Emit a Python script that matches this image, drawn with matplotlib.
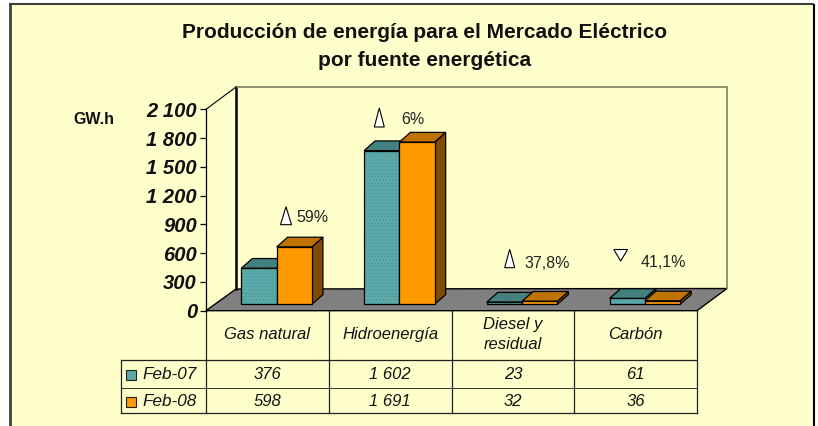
import matplotlib
matplotlib.use('Agg')
import matplotlib.pyplot as plt
from matplotlib.patches import Polygon, Rectangle

plt.rcParams['font.family'] = ['Liberation Sans', 'DejaVu Sans']
plt.rcParams['hatch.linewidth'] = 0.5

categories = ['Gas natural', 'Hidroenergía', 'Diesel y\nresidual', 'Carbón']
feb07 = [376, 1602, 23, 61]
feb08 = [598, 1691, 32, 36]
feb07_labels = ['376', '1 602', '23', '61']
feb08_labels = ['598', '1 691', '32', '36']
series_names = ['Feb-07', 'Feb-08']
yticks = [0, 300, 600, 900, 1200, 1500, 1800, 2100]
ytick_labels = ['0', '300', '600', '900', '1 200', '1 500', '1 800', '2 100']
changes = ['59%', '6%', '37,8%', '41,1%']

W, H = 818, 426
BG = '#FFFFCC'
TEAL, TEAL_TOP = '#5BA9A9', '#438080'
ORANGE, ORANGE_TOP, ORANGE_SIDE = '#FF9900', '#BF7300', '#7F4C00'

fig = plt.figure(figsize=(W / 100, H / 100), dpi=100, facecolor='white')

# everything that is not data sits on a pixel axes
bg = fig.add_axes([0, 0, 1, 1], zorder=0)
bg.set_xlim(0, W)
bg.set_ylim(H, 0)
bg.axis('off')

bg.add_patch(Rectangle((10, 4), 803, H, fc=BG, ec='none'))
bg.plot([10, 10], [4, H], color='#404040', lw=2, solid_capstyle='butt')
bg.plot([9, 814], [4, 4], color='#404040', lw=1.5, solid_capstyle='butt')
bg.plot([813.5, 813.5], [4, H], color='black', lw=1.5, solid_capstyle='butt')

bg.text(425, 33, 'Producción de energía para el Mercado Eléctrico', ha='center', va='center',
        fontsize=15, fontweight='bold', color='#111111')
bg.text(425, 60, 'por fuente energética', ha='center', va='center',
        fontsize=15, fontweight='bold', color='#111111')
bg.text(94, 119, 'GW.h', ha='center', va='center', fontsize=11.5, fontweight='bold', color='#111111')

# walls and floor
x0, x1, y_top, y_bot = 206, 697, 109.3, 310.7
bg.add_patch(Polygon([(x0, y_bot), (236, 289), (727, 288.5), (x1, y_bot)], fc='#808080', ec='black', lw=1))
bg.plot([236, 236], [87, 289], color='black', lw=1.8)
bg.plot([236, 727, 727], [87, 87, 288], color='#7F7F60', lw=1.2)
bg.plot([x0, 236], [y_top, 87], color='black', lw=0.8)

# data table
col_x = [x0 + i * (x1 - x0) / 4 for i in range(5)]
rows_y = [y_bot, 360.3, 388.3, 413.3]
for x in col_x:
    bg.plot([x, x], [rows_y[0], rows_y[3]], color='#202020', lw=0.9)
bg.plot([120.7, x1], [rows_y[1]] * 2, color='#202020', lw=0.9)
bg.plot([120.7, x1], [rows_y[2]] * 2, color='#303030', lw=0.7)
bg.plot([120.7, x1], [rows_y[3]] * 2, color='#202020', lw=0.9)
bg.plot([120.7, 120.7], [rows_y[1], rows_y[3]], color='#202020', lw=0.9)

for i, name in enumerate(categories):
    xc = (col_x[i] + col_x[i + 1]) / 2
    bg.text(xc, 334.5, name, ha='center', va='center', fontsize=12, style='italic', color='#111111', linespacing=1.35)
    bg.text(xc, 374.5, feb07_labels[i], ha='center', va='center', fontsize=12, style='italic', color='#111111')
    bg.text(xc, 401, feb08_labels[i], ha='center', va='center', fontsize=12, style='italic', color='#111111')

for name, color, yc in zip(series_names, [TEAL, ORANGE], [374.5, 401]):
    bg.add_patch(Rectangle((126, yc - 4.5), 10, 10, fc=color, ec='#202020', lw=0.8))
    bg.text(142.5, yc, name, ha='left', va='center', fontsize=12.3, style='italic', color='#111111')

# change markers
up = [(286, 206.7, 224.7, 11), (379.3, 108, 127, 10), (509.7, 249.3, 267.7, 10)]
for xc, t, b, w in up:
    bg.add_patch(Polygon([(xc, t), (xc - w / 2, b), (xc + w / 2, b)], fc='white', ec='black', lw=0.8))
bg.add_patch(Polygon([(613.8, 249.5), (627.6, 249.5), (620.7, 261)], fc='white', ec='black', lw=0.8))
for s, x, y in zip(changes, [296.5, 401.5, 524, 641], [217, 119, 263.5, 262.5]):
    bg.text(x, y, s, ha='left', va='center', fontsize=11.5, color='#222222')

# bars on real axes, value scale over front plane
ax = fig.add_axes([x0 / W, 1 - y_bot / H, (x1 - x0) / W, (y_bot - y_top) / H], zorder=1)
ax.patch.set_visible(False)
ax.set_xlim(0, 4)
ax.set_ylim(0, 2100)
for s in ['top', 'right', 'bottom']:
    ax.spines[s].set_visible(False)
ax.spines['left'].set_linewidth(0.9)
ax.set_xticks([])
ax.set_yticks(yticks)
ax.set_yticklabels(ytick_labels, fontsize=14.5, fontweight='bold', style='italic', color='#111111')
ax.tick_params(axis='y', length=4, width=0.9, pad=2.5)

bar_w = 0.2875
start = 0.288
base = 67
dx = 11 / ((x1 - x0) / 4)
dy = 9.7 * 2100 / (y_bot - y_top)


def bar(left, value, front, top, side, hatch=None):
    right = left + bar_w
    hi = base + value
    kw = dict(closed=True, clip_on=False, edgecolor='black', linewidth=0.9)
    ax.fill([right, right + dx, right + dx, right], [base, base + dy, hi + dy, hi], facecolor=side, **kw)
    ax.fill([left, left + dx, right + dx, right], [hi, hi + dy, hi + dy, hi], facecolor=top, **kw)
    if hatch:
        ax.fill([left, right, right, left], [base, base, hi, hi], facecolor=front, clip_on=False,
                edgecolor='#4A9595', hatch=hatch, linewidth=0)
        ax.fill([left, right, right, left], [base, base, hi, hi], fill=False, clip_on=False,
                edgecolor='black', linewidth=0.9)
    else:
        ax.fill([left, right, right, left], [base, base, hi, hi], facecolor=front, **kw)


for i in range(len(categories)):
    bar(i + start, feb07[i], TEAL, TEAL_TOP, TEAL_TOP, hatch='.....')
    bar(i + start + bar_w, feb08[i], ORANGE, ORANGE_TOP, ORANGE_SIDE)

fig.savefig('out.png', dpi=100, facecolor='white')
